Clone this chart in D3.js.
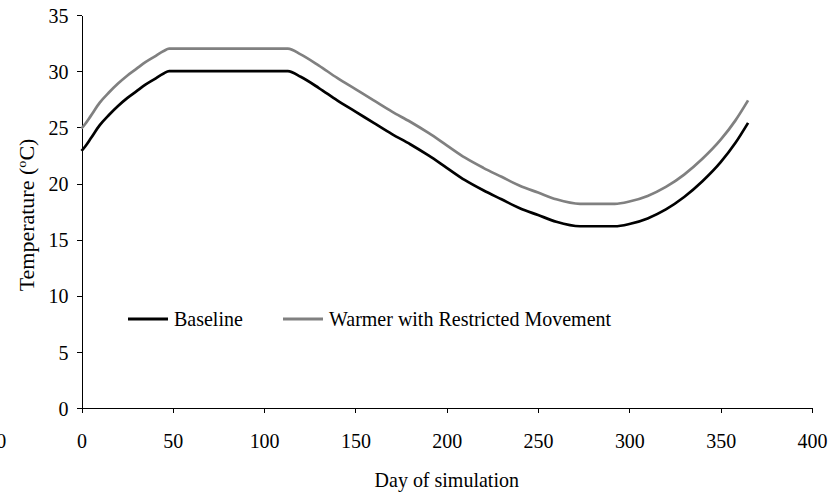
<!DOCTYPE html>
<html>
<head>
<meta charset="utf-8">
<script src="https://cdn.jsdelivr.net/npm/d3@7/dist/d3.min.js"></script>
<style>
  html, body { margin: 0; padding: 0; background: #fff; }
  svg { display: block; }
  text { font-family: "Liberation Serif", "Times New Roman", serif; fill: #000; }
</style>
</head>
<body>
<svg id="chart" width="840" height="495"></svg>
<script>
// ---- data ----
const days = [0, 2, 5, 10, 15, 20, 25, 30, 35, 40, 45, 48, 113, 120, 130, 140, 150, 160, 170, 180, 190, 200, 210, 220, 230, 240, 250, 260, 273, 292, 300, 310, 320, 330, 340, 350, 358, 365];
const baseline = [22.9, 23.3, 24.0, 25.2, 26.1, 26.9, 27.6, 28.2, 28.8, 29.3, 29.8, 30.0, 30.0, 29.5, 28.5, 27.4, 26.4, 25.4, 24.4, 23.5, 22.5, 21.4, 20.3, 19.4, 18.6, 17.8, 17.2, 16.6, 16.2, 16.2, 16.4, 16.9, 17.7, 18.8, 20.2, 21.9, 23.6, 25.4];
const warmer   = [24.9, 25.3, 26.0, 27.2, 28.1, 28.9, 29.6, 30.2, 30.8, 31.3, 31.8, 32.0, 32.0, 31.5, 30.5, 29.4, 28.4, 27.4, 26.4, 25.5, 24.5, 23.4, 22.3, 21.4, 20.6, 19.8, 19.2, 18.6, 18.2, 18.2, 18.4, 18.9, 19.7, 20.8, 22.2, 23.9, 25.6, 27.4];
const seriesNames = ["Baseline", "Warmer with Restricted Movement"];
const xTickValues = [-50, 0, 50, 100, 150, 200, 250, 300, 350, 400];
const yTickValues = [0, 5, 10, 15, 20, 25, 30, 35];

// ---- layout ----
const svg = d3.select("#chart");
const x = d3.scaleLinear().domain([0, 400]).range([81.5, 812]);
const y = d3.scaleLinear().domain([0, 35]).range([408.3, 15]);
const fontSize = 20;
const stretch = 1.1; // reference text is slightly taller than wide

// move a text's x/y into a transform and stretch it vertically about its baseline
function tallText(sel) {
  sel.each(function () {
    const t = d3.select(this);
    const tx = +(t.attr("x") || 0), ty = +(t.attr("y") || 0);
    t.attr("x", 0).attr("y", 0).attr("transform", `translate(${tx},${ty}) scale(1,${stretch})`);
  });
}

// axes
const yAxis = d3.axisLeft(y).tickValues(yTickValues).tickSize(5).tickPadding(8).tickSizeOuter(0);
const xAxis = d3.axisBottom(x).tickValues(xTickValues).tickSize(5).tickPadding(19).tickSizeOuter(0);

const gx = svg.append("g").attr("transform", `translate(0,${y(0)})`).call(xAxis);
const gy = svg.append("g").attr("transform", `translate(${x(0)},0)`).call(yAxis);
[gx, gy].forEach(g => {
  g.selectAll("path, line").attr("stroke", "#000").attr("stroke-width", 1).attr("shape-rendering", "crispEdges");
  g.selectAll("text").attr("font-family", "Liberation Serif, Times New Roman, serif").attr("font-size", fontSize).attr("fill", "#000");
  tallText(g.selectAll("text"));
});

// lines
const line = d3.line().x((d, i) => x(days[i])).y(d => y(d)).curve(d3.curveMonotoneX);
svg.append("path").datum(warmer).attr("d", line)
  .attr("fill", "none").attr("stroke", "#808080").attr("stroke-width", 2.7).attr("stroke-linejoin", "round");
svg.append("path").datum(baseline).attr("d", line)
  .attr("fill", "none").attr("stroke", "#000").attr("stroke-width", 2.7).attr("stroke-linejoin", "round");

// legend
const legend = [
  { name: seriesNames[0], color: "#000", x0: 128 },
  { name: seriesNames[1], color: "#808080", x0: 283 }
];
const ly = 319;
legend.forEach(l => {
  svg.append("line").attr("x1", l.x0).attr("x2", l.x0 + 40).attr("y1", ly).attr("y2", ly)
    .attr("stroke", l.color).attr("stroke-width", 3);
  svg.append("text").attr("x", l.x0 + 46).attr("y", ly + 7).attr("font-size", fontSize).text(l.name)
    .call(tallText);
});

// axis titles
svg.append("text").attr("x", (x(0) + x(400)) / 2).attr("y", 487)
  .attr("text-anchor", "middle").attr("font-size", fontSize).text("Day of simulation")
  .call(tallText);

const yt = svg.append("text")
  .attr("transform", `translate(34,215) rotate(-90) scale(${stretch},1)`)
  .attr("text-anchor", "middle").attr("font-size", fontSize);
yt.append("tspan").text("Temperature (");
yt.append("tspan").attr("font-size", 13).attr("dy", -8).text("o");
yt.append("tspan").attr("dy", 8).text("C)");
</script>
</body>
</html>
